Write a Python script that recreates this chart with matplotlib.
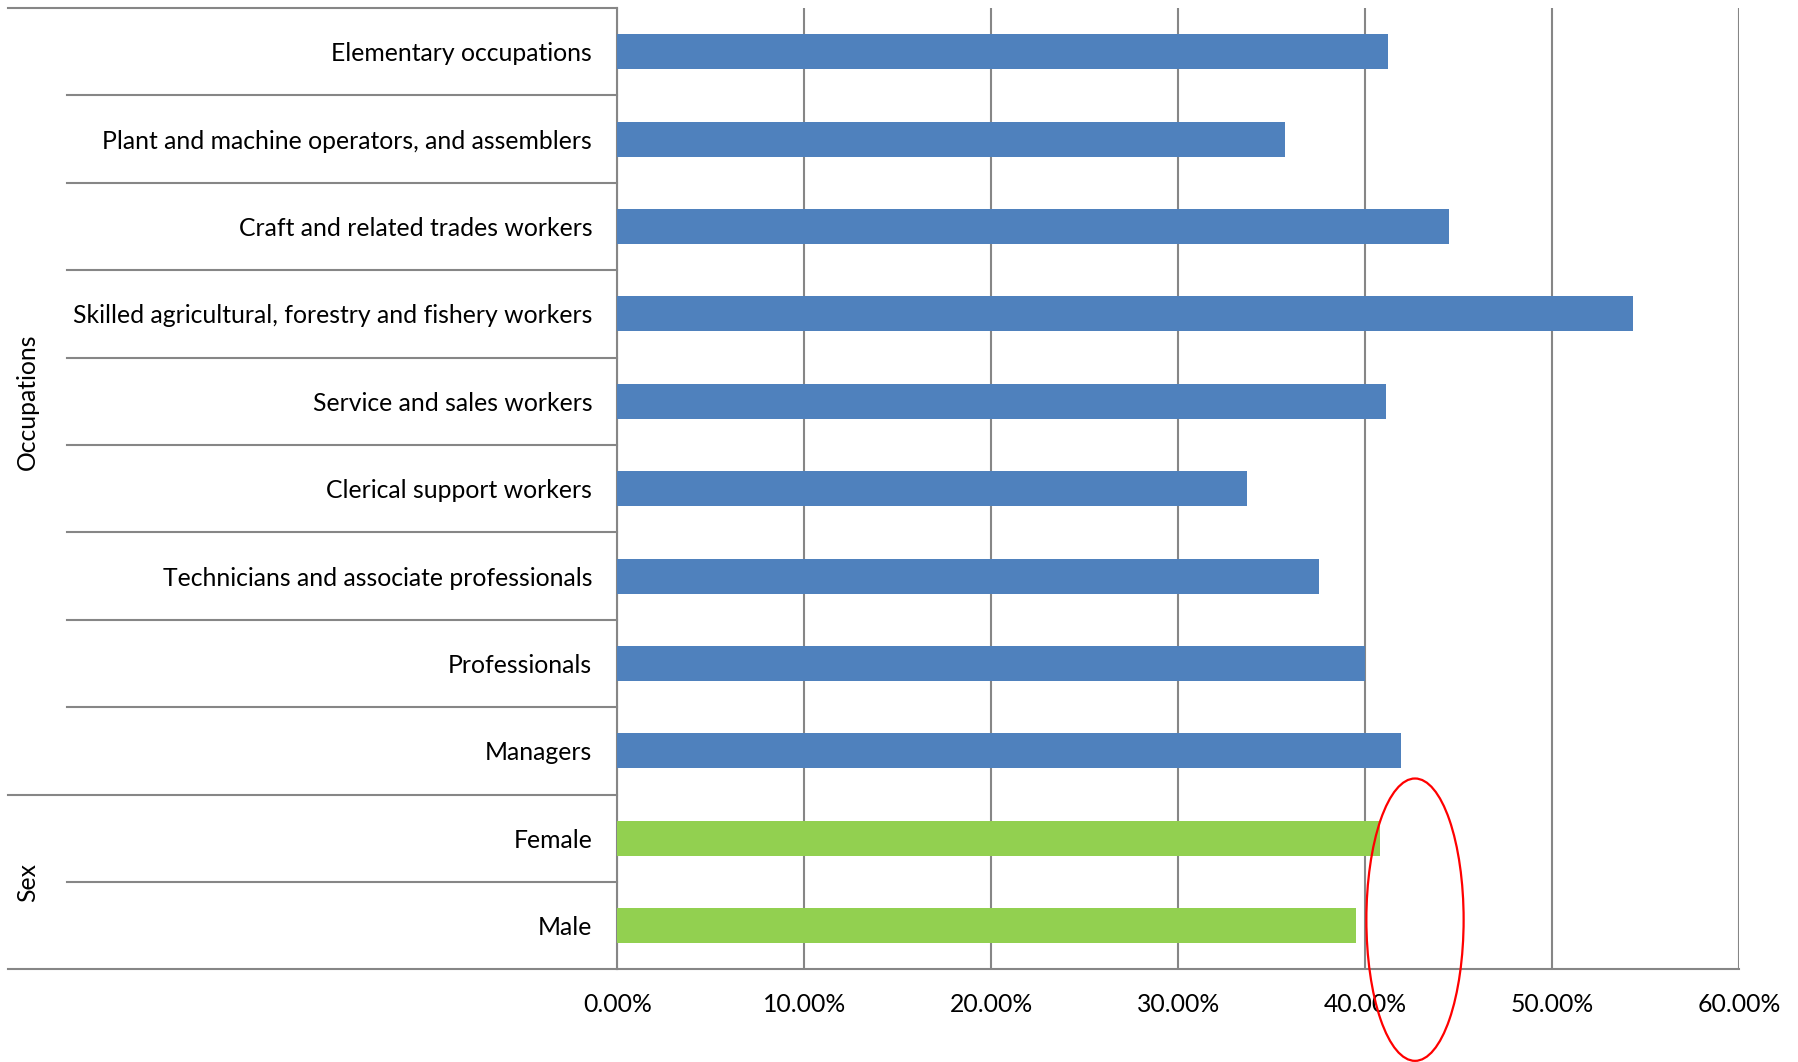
import matplotlib.pyplot as plt
from matplotlib.patches import Ellipse
from matplotlib.ticker import FuncFormatter

# category labels, bottom to top
sex_labels = ["Male", "Female"]
occupation_labels = [
    "Managers",
    "Professionals",
    "Technicians and associate professionals",
    "Clerical support workers",
    "Service and sales workers",
    "Skilled agricultural, forestry and fishery workers",
    "Craft and related trades workers",
    "Plant and machine operators, and assemblers",
    "Elementary occupations",
]

# shares in percent
sex_values = [39.5, 40.8]
occupation_values = [41.9, 40.0, 37.5, 33.7, 41.1, 54.3, 44.5, 35.7, 41.2]

x_ticks = [0, 10, 20, 30, 40, 50, 60]

plt.rcParams['font.family'] = ['Lato', 'DejaVu Sans']
grey = '#868686'
fs = 17.8

fig = plt.figure(figsize=(17.99, 10.62), dpi=100)
ax = fig.add_axes([0.3431, 0.0871, 0.6237, 0.9054])

labels = sex_labels + occupation_labels
values = sex_values + occupation_values
colors = ['#92D050'] * len(sex_values) + ['#4F81BD'] * len(occupation_values)
ypos = list(range(len(labels)))

ax.barh(ypos, values, height=0.4, color=colors, zorder=3)

ax.set_xlim(0, 60)
ax.set_ylim(-0.5, len(labels) - 0.5)
ax.set_xticks(x_ticks)
ax.xaxis.set_major_formatter(FuncFormatter(lambda v, p: "{:.2f}%".format(v)))
ax.set_yticks(ypos)
ax.set_yticklabels(labels)
ax.tick_params(axis='y', length=0, pad=18, labelsize=fs)
ax.tick_params(axis='x', length=0, pad=17, labelsize=fs)

ax.grid(axis='x', color=grey, linewidth=1.5, zorder=0)
for side in ['top', 'right']:
    ax.spines[side].set_visible(False)
for side in ['left', 'bottom']:
    ax.spines[side].set_color(grey)
    ax.spines[side].set_linewidth(1.5)

# multi-level category dividers left of the axis
tr = ax.get_yaxis_transform()
for b in range(1, len(labels)):
    x0 = -0.543 if b == len(sex_labels) else -0.4905
    ax.plot([x0, 0], [b - 0.5, b - 0.5], color=grey, lw=1.5,
            transform=tr, clip_on=False)
for yb in [-0.5, len(labels) - 0.5]:
    ax.plot([-0.543, 0], [yb, yb], color=grey, lw=1.5,
            transform=tr, clip_on=False)

# group names
ax.text(-0.5255, (len(sex_labels) - 1) / 2, "Sex", rotation=90, transform=tr,
        ha='center', va='center', fontsize=fs)
ax.text(-0.5255, len(sex_labels) + (len(occupation_labels) - 1) / 2, "Occupations",
        rotation=90, transform=tr, ha='center', va='center', fontsize=fs)

# highlight ring around the 40-45% range
ring = Ellipse((42.66, 0.07), width=5.2, height=3.23, fill=False,
               edgecolor='red', lw=1.6, clip_on=False, zorder=5)
ax.add_patch(ring)

fig.savefig("out.png", dpi=100)
